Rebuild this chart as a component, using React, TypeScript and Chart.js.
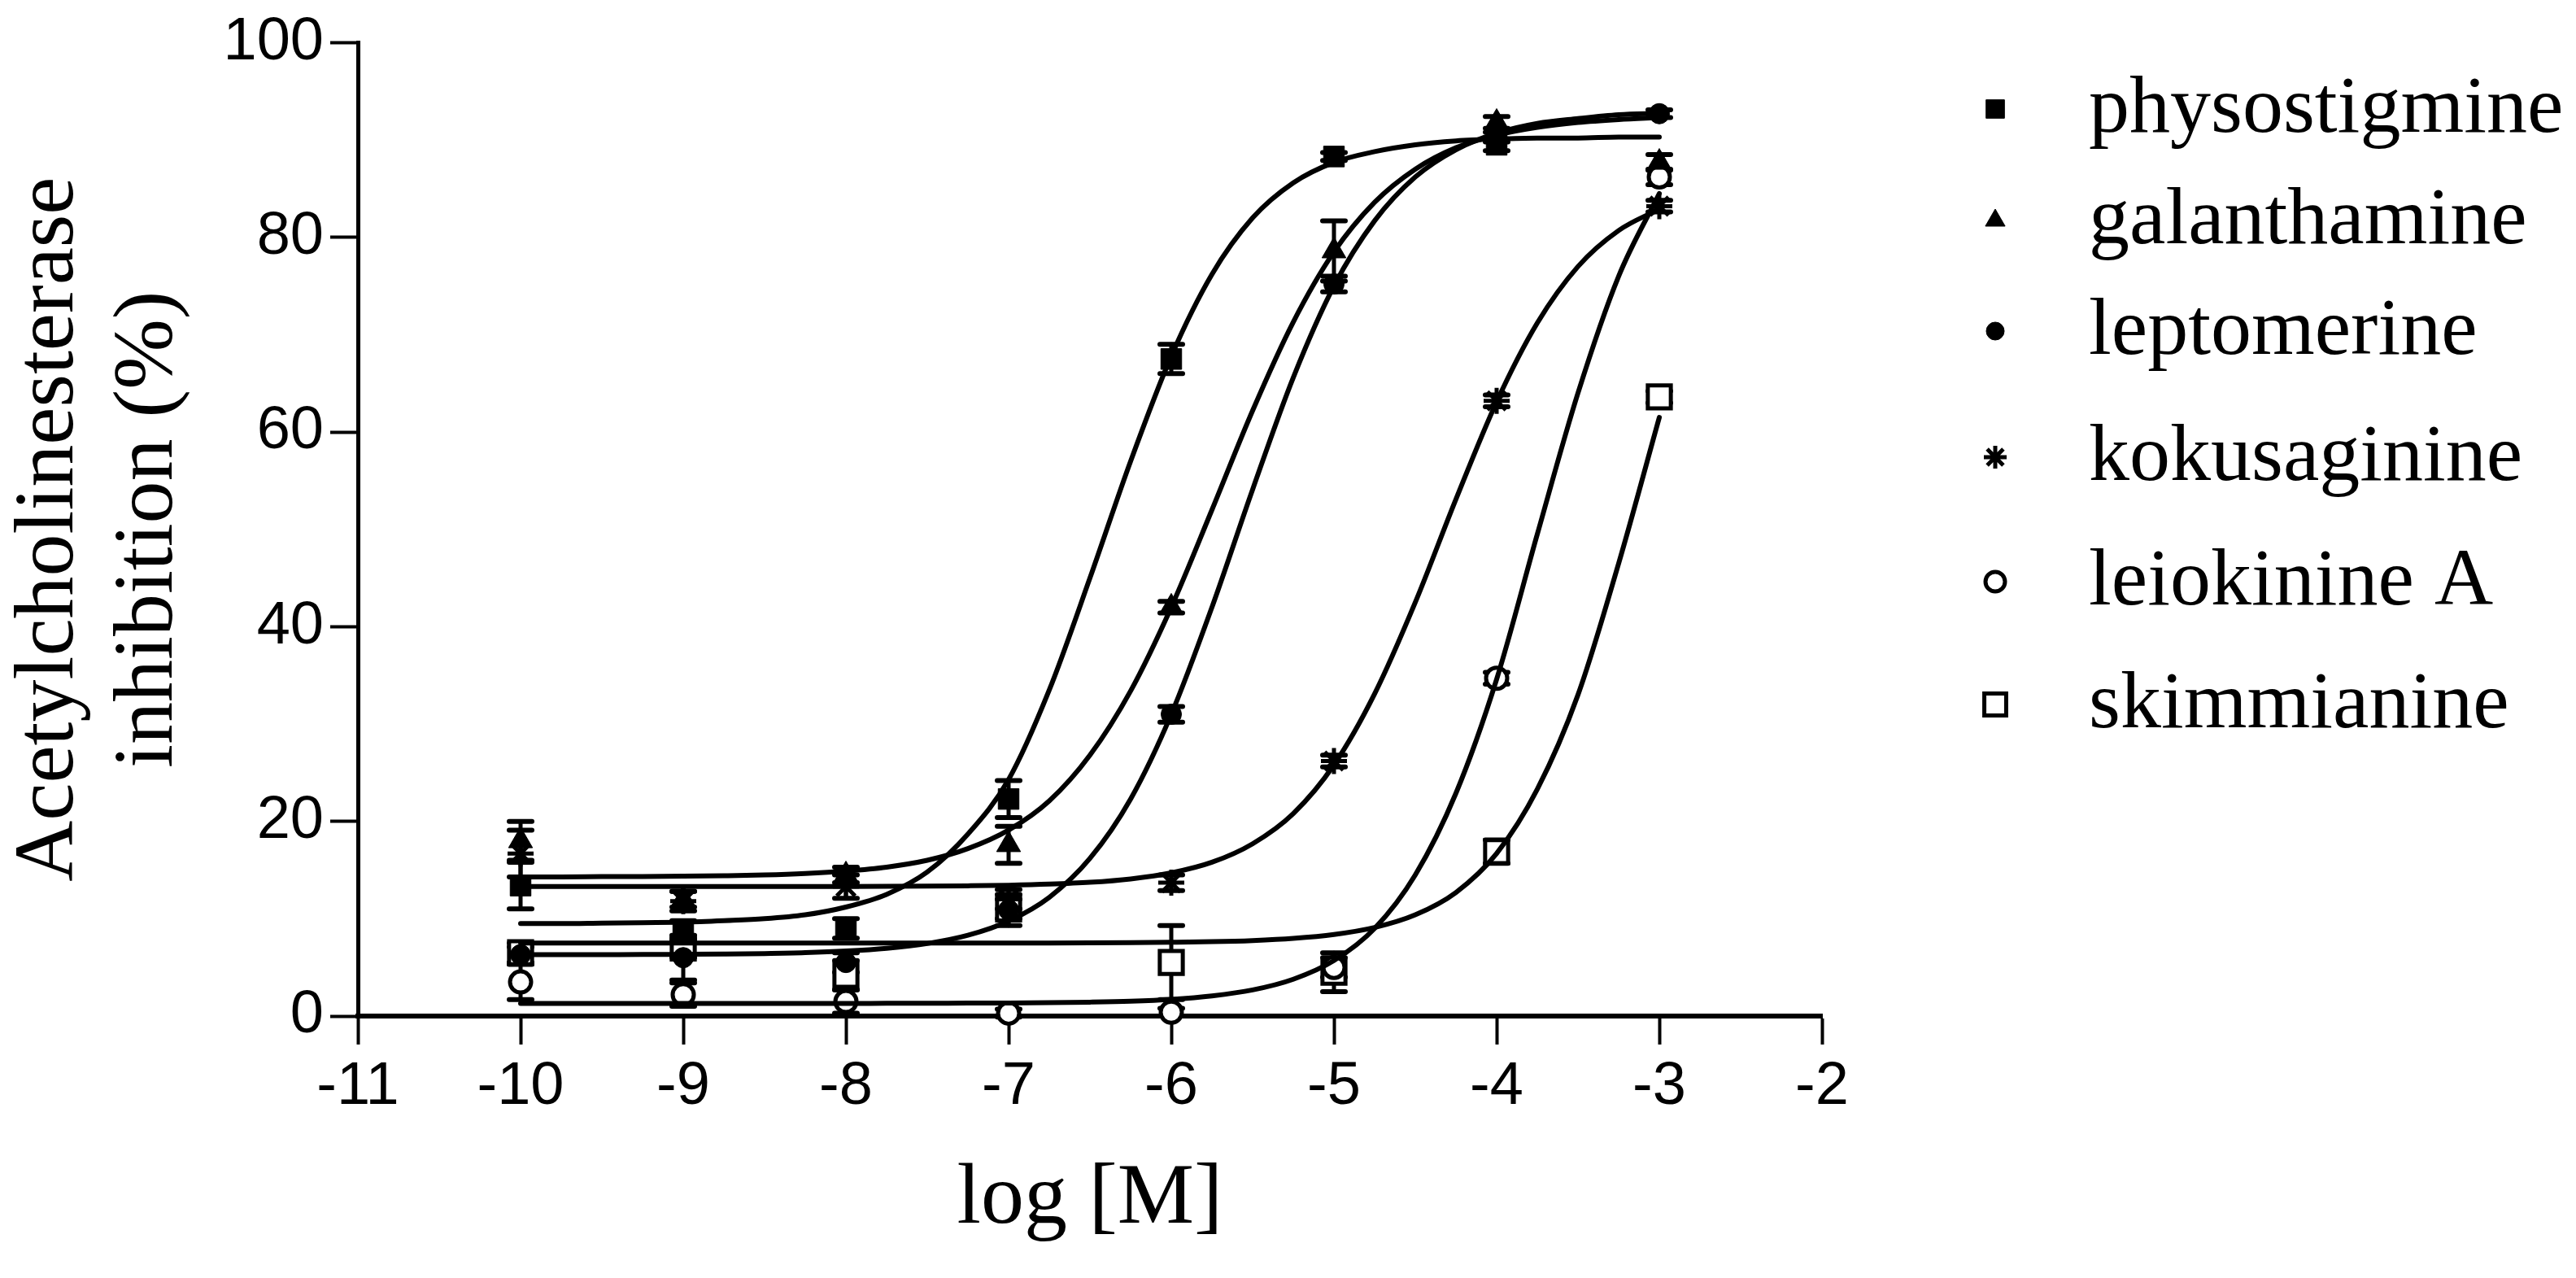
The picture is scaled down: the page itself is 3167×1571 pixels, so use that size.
import React, { useEffect, useRef } from 'react';
import { Chart, registerables } from 'chart.js';
import { drawPoint } from 'chart.js/helpers';

Chart.register(...registerables);

// ---------- data ----------
const compounds = ['physostigmine', 'galanthamine', 'leptomerine', 'kokusaginine', 'leiokinine A', 'skimmianine'];

// measured concentrations, log [M]
const doseLog = [-10, -9, -8, -7, -6, -5, -4, -3];

// mean % inhibition (null = no visible point) and error (±)
const physostigmineMean = [13.4, 8.8, 9.0, 22.3, 67.5, 88.3, 89.5, null];
const physostigmineErr = [2.4, 1.0, 1.0, 1.9, 1.5, 0.4, 0.6, 0];
const galanthamineMean = [18.0, 12.0, 14.5, 17.6, 42.0, 78.6, 91.8, 87.7];
const galanthamineErr = [2.0, 0.8, 0.8, 1.9, 0.6, 3.1, 0.6, 0.8];
const leptomerineMean = [6.3, 6.0, 5.5, 10.9, 31.0, 75.2, 90.3, 92.7];
const leptomerineErr = [0.8, 2.3, 1.0, 1.6, 0.8, 0.8, 0.5, 0.4];
const kokusaginineMean = [16.7, 11.8, 13.3, 12.0, 13.7, 26.2, 63.2, 83.2];
const kokusaginineErr = [2.4, 1.0, 1.2, 1.0, 0.8, 0.6, 0.6, 0.6];
const leiokinineMean = [3.5, 2.2, 1.5, 0.3, 0.4, 5.0, 34.7, 86.2];
const leiokinineErr = [1.8, 1.2, 1.2, 0.4, 0.4, 1.0, 0.6, 0.8];
const skimmianineMean = [6.5, 7.0, 4.2, 11.0, 5.5, 4.5, 16.9, 63.6];
const skimmianineErr = [1.0, 1.0, 1.5, 1.0, 3.8, 2.0, 1.2, 0.6];

const curveLog = [-10, -9.75, -9.5, -9.25, -9, -8.75, -8.5, -8.25, -8, -7.75, -7.5, -7.25, -7, -6.75, -6.5, -6.25, -6, -5.75, -5.5, -5.25, -5, -4.75, -4.5, -4.25, -4, -3.75, -3.5, -3.25, -3];
const physostigmineFit = [9.5, 9.5, 9.55, 9.6, 9.65, 9.8, 10.0, 10.4, 11.2, 12.5, 14.8, 18.7, 24.3, 33.5, 45.0, 57.0, 67.8, 76.2, 82.0, 85.6, 87.7, 88.8, 89.5, 89.9, 90.1, 90.2, 90.2, 90.3, 90.3];
const galanthamineFit = [14.3, 14.3, 14.33, 14.34, 14.37, 14.42, 14.5, 14.65, 14.9, 15.3, 16.0, 17.2, 19.1, 22.1, 26.8, 33.4, 42.0, 52.0, 62.2, 71.3, 78.5, 83.6, 87.0, 89.2, 90.5, 91.3, 91.8, 92.1, 92.3];
const leptomerineFit = [6.3, 6.3, 6.31, 6.32, 6.34, 6.37, 6.42, 6.51, 6.68, 6.96, 7.45, 8.3, 9.76, 12.2, 16.2, 22.3, 31.0, 42.0, 54.1, 65.6, 75.0, 81.7, 86.2, 89.0, 90.7, 91.7, 92.2, 92.6, 92.75];
const kokusaginineFit = [13.3, 13.3, 13.3, 13.3, 13.3, 13.3, 13.3, 13.3, 13.31, 13.32, 13.34, 13.38, 13.44, 13.55, 13.74, 14.09, 14.71, 15.8, 17.7, 20.8, 25.8, 33.1, 42.5, 53.1, 63.1, 71.2, 77.0, 80.7, 82.9];
const leiokinineFit = [1.3, 1.3, 1.3, 1.3, 1.3, 1.3, 1.3, 1.3, 1.3, 1.31, 1.32, 1.33, 1.34, 1.37, 1.43, 1.53, 1.72, 2.07, 2.68, 3.78, 5.7, 9.0, 14.5, 22.9, 34.6, 49.5, 64.0, 76.0, 84.5];
const skimmianineFit = [7.5, 7.5, 7.5, 7.5, 7.5, 7.5, 7.5, 7.5, 7.5, 7.5, 7.5, 7.5, 7.5, 7.51, 7.52, 7.54, 7.58, 7.64, 7.76, 7.98, 8.38, 9.1, 10.4, 12.7, 16.7, 23.3, 33.0, 46.5, 61.5];

const xTitle = 'log [M]';
const yTitle = ['Acetylcholinesterase', 'inhibition (%)'];

// ---------- styles ----------
const W = 3167;
const H = 1571;
const SERIF = '"Liberation Serif", "Times New Roman", serif';
const SANS = '"Liberation Sans", Arial, sans-serif';

type MarkerStyle = { pointStyle: any; radius: number; fill: string; border: number; legendRadius: number; legendBorder: number; order: number };
const markerStyles: MarkerStyle[] = [
  { pointStyle: 'rect', radius: 18, fill: '#000', border: 1, legendRadius: 16, legendBorder: 1, order: 1 },
  { pointStyle: 'triangle', radius: 17, fill: '#000', border: 1, legendRadius: 14, legendBorder: 1, order: 1 },
  { pointStyle: 'circle', radius: 12.5, fill: '#000', border: 1, legendRadius: 11, legendBorder: 1, order: 1 },
  { pointStyle: 'star', radius: 16, fill: '#000', border: 5, legendRadius: 14, legendBorder: 5, order: 1 },
  { pointStyle: 'circle', radius: 13, fill: '#fff', border: 5, legendRadius: 12, legendBorder: 5, order: 2 },
  { pointStyle: 'rect', radius: 20, fill: '#fff', border: 5, legendRadius: 19, legendBorder: 5, order: 2 },
];
const legendRowY = [134, 271, 407, 562, 715, 866];
const legendMarkerX = 2453;
const legendTextX = 2568;

const errorBarPlugin = {
  id: 'errorBars',
  beforeDatasetsDraw(chart: any) {
    const { ctx } = chart;
    const xs = chart.scales.x;
    const ys = chart.scales.y;
    ctx.save();
    ctx.strokeStyle = '#000';
    ctx.lineCap = 'round';
    chart.data.datasets.forEach((ds: any) => {
      if (!ds.isMarker) return;
      ds.data.forEach((pt: any) => {
        if (!pt.err) return;
        const px = xs.getPixelForValue(pt.x);
        const top = ys.getPixelForValue(pt.y + pt.err);
        const bot = ys.getPixelForValue(pt.y - pt.err);
        ctx.lineWidth = 5;
        ctx.beginPath();
        ctx.moveTo(px, top);
        ctx.lineTo(px, bot);
        ctx.stroke();
        ctx.lineWidth = 6;
        ctx.beginPath();
        ctx.moveTo(px - 14, top);
        ctx.lineTo(px + 14, top);
        ctx.moveTo(px - 14, bot);
        ctx.lineTo(px + 14, bot);
        ctx.stroke();
      });
    });
    ctx.restore();
  },
};

const legendPlugin = {
  id: 'sideLegend',
  afterDraw(chart: any) {
    const { ctx } = chart;
    ctx.save();
    compounds.forEach((name, i) => {
      const s = markerStyles[i];
      const y = legendRowY[i];
      ctx.fillStyle = s.fill;
      ctx.strokeStyle = '#000';
      ctx.lineWidth = s.legendBorder;
      drawPoint(ctx, { pointStyle: s.pointStyle, radius: s.legendRadius, borderWidth: s.legendBorder, rotation: 0 } as any, legendMarkerX, y);
      ctx.fillStyle = '#000';
      ctx.font = `100px ${SERIF}`;
      ctx.textAlign = 'left';
      ctx.textBaseline = 'alphabetic';
      ctx.fillText(name, legendTextX, y + 28);
    });
    ctx.restore();
  },
};

export default function App() {
  const ref = useRef<HTMLCanvasElement>(null);

  useEffect(() => {
    const canvas = ref.current;
    if (!canvas) return;

    const means = [physostigmineMean, galanthamineMean, leptomerineMean, kokusaginineMean, leiokinineMean, skimmianineMean];
    const errs = [physostigmineErr, galanthamineErr, leptomerineErr, kokusaginineErr, leiokinineErr, skimmianineErr];
    const fits = [physostigmineFit, galanthamineFit, leptomerineFit, kokusaginineFit, leiokinineFit, skimmianineFit];

    const datasets: any[] = [];
    compounds.forEach((name, i) => {
      datasets.push({
        label: name + ' fit',
        data: curveLog.map((x, k) => ({ x, y: fits[i][k] })),
        showLine: true,
        borderColor: '#000',
        borderWidth: 6,
        borderCapStyle: 'round',
        pointRadius: 0,
        fill: false,
        cubicInterpolationMode: 'monotone',
        order: 0,
        clip: false,
      });
    });
    compounds.forEach((name, i) => {
      const s = markerStyles[i];
      const pts: any[] = [];
      doseLog.forEach((x, k) => {
        const v = means[i][k];
        if (v !== null && v !== undefined) pts.push({ x, y: v, err: errs[i][k] });
      });
      datasets.push({
        label: name,
        isMarker: true,
        data: pts,
        showLine: false,
        pointStyle: s.pointStyle,
        pointRadius: s.radius,
        pointBackgroundColor: s.fill,
        pointBorderColor: '#000',
        pointBorderWidth: s.border,
        order: s.order,
        clip: false,
      });
    });

    const chart = new Chart(canvas, {
      type: 'scatter',
      data: { datasets },
      plugins: [errorBarPlugin, legendPlugin],
      options: {
        responsive: false,
        animation: false,
        devicePixelRatio: 1,
        events: [],
        layout: { padding: { top: 49, right: 927, bottom: 0, left: 0 } },
        plugins: {
          legend: { display: false },
          tooltip: { enabled: false },
        },
        scales: {
          x: {
            type: 'linear',
            min: -11,
            max: -2,
            afterFit: (s: any) => { s.height = 322; },
            border: { display: true, color: '#000', width: 6 },
            grid: { drawOnChartArea: false, drawTicks: true, tickLength: 35, tickWidth: 4, tickColor: '#000' },
            ticks: {
              stepSize: 1,
              autoSkip: false,
              maxRotation: 0,
              padding: 8,
              color: '#000',
              font: { family: SANS, size: 74 },
              callback: (v: any) => String(v),
            },
            title: {
              display: true,
              text: xTitle,
              color: '#000',
              font: { family: SERIF, size: 106, lineHeight: 1.2 },
              padding: { top: 0, bottom: 32 },
            },
          },
          y: {
            type: 'linear',
            min: 0,
            max: 100,
            afterFit: (s: any) => { s.width = 440; },
            border: { display: true, color: '#000', width: 5 },
            grid: { drawOnChartArea: false, drawTicks: true, tickLength: 34, tickWidth: 4, tickColor: '#000' },
            ticks: {
              stepSize: 20,
              padding: 8,
              color: '#000',
              font: { family: SANS, size: 74 },
              callback: (v: any) => String(v),
            },
            title: {
              display: true,
              text: yTitle,
              color: '#000',
              font: { family: SERIF, size: 104, lineHeight: 1.18 },
              padding: { top: 0, bottom: 0 },
            },
          },
        },
      } as any,
    });

    return () => chart.destroy();
  }, []);

  return (
    <div style={{ position: 'fixed', left: 0, top: 0, width: W, height: H, background: '#fff' }}>
      <canvas ref={ref} width={W} height={H} style={{ width: W, height: H, display: 'block' }} />
    </div>
  );
}
